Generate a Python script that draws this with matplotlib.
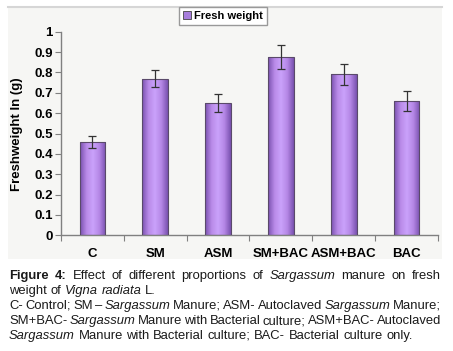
import matplotlib
matplotlib.use("Agg")
import matplotlib.pyplot as plt
import numpy as np
from matplotlib.colors import LinearSegmentedColormap
from matplotlib.patches import Rectangle, Patch
from matplotlib.lines import Line2D

plt.rcParams['font.family'] = ['Liberation Sans', 'DejaVu Sans']

# data
treatments = ['C', 'SM', 'ASM', 'SM+BAC', 'ASM+BAC', 'BAC']
fresh_weight = [0.46, 0.77, 0.65, 0.875, 0.79, 0.66]
errors = [0.03, 0.04, 0.045, 0.06, 0.05, 0.05]
yticks = [0, 0.1, 0.2, 0.3, 0.4, 0.5, 0.6, 0.7, 0.8, 0.9, 1]
ytick_labels = ['0', '0.1', '0.2', '0.3', '0.4', '0.5', '0.6', '0.7', '0.8', '0.9', '1']

W, H = 453, 351
fig = plt.figure(figsize=(W / 100, H / 100), dpi=100)
fig.patch.set_facecolor('white')

# grey chart panel behind the plot
fig.patches.append(Rectangle((8 / W, 1 - 259 / H), 434 / W, 252 / H,
                             transform=fig.transFigure, facecolor='#f6f6f4',
                             edgecolor='none', zorder=-5))
fig.lines.append(Line2D([8 / W, 442 / W], [1 - 7 / H, 1 - 7 / H],
                        transform=fig.transFigure, color='#d6d6d6', lw=1.5, zorder=-4))

ax = fig.add_axes([61 / W, 1 - 235.3 / H, 377 / W, 203.6 / H])
ax.set_facecolor('none')
ax.set_zorder(2)

x = np.arange(len(treatments))
bars = ax.bar(x, fresh_weight, width=0.41, color='none', edgecolor='#5a4a6a',
              linewidth=0.8, zorder=3)

# purple cylinder-like gradient inside each bar
cmap = LinearSegmentedColormap.from_list('purp', ['#7a52b0', '#b98ae8', '#caa2fb', '#b587e6', '#7a52b0'])
grad = np.linspace(0, 1, 64).reshape(1, -1)
for b in bars:
    im = ax.imshow(grad, cmap=cmap, aspect='auto', zorder=2,
                   extent=[b.get_x(), b.get_x() + b.get_width(), 0, b.get_height()])
    im.set_clip_path(b)

ax.errorbar(x, fresh_weight, yerr=errors, fmt='none', ecolor='#333333',
            elinewidth=0.9, capsize=3, capthick=0.9, zorder=4)

ax.set_xlim(-0.5, 5.5)
ax.set_ylim(0, 1)
for s in ['top', 'right']:
    ax.spines[s].set_visible(False)
for s in ['left', 'bottom']:
    ax.spines[s].set_color('#808080')
    ax.spines[s].set_linewidth(1)

ax.set_yticks(yticks)
ax.set_yticklabels(ytick_labels, fontsize=9.5, fontweight='bold')
ax.tick_params(axis='y', direction='out', length=4, color='#808080', pad=2)

ax.set_xticks(np.arange(-0.5, 6, 1))
ax.set_xticklabels([])
ax.tick_params(axis='x', which='major', direction='out', length=4, color='#808080')
ax.set_xticks(x, minor=True)
ax.set_xticklabels(treatments, minor=True, fontsize=9.5, fontweight='bold')
ax.tick_params(axis='x', which='minor', length=0, pad=9)

fig.text(17 / W, 1 - 134 / H, 'Freshweight In (g)', rotation=90, ha='center',
         va='center', fontsize=9.5, fontweight='bold')

fig.legend(handles=[Patch(facecolor='#a77ddc', edgecolor='#444444', lw=0.6)],
           labels=['Fresh weight'], loc='upper left',
           bbox_to_anchor=(179 / W, 1 - 7 / H), frameon=True, fancybox=False,
           edgecolor='#999999', framealpha=1, facecolor='white',
           prop={'weight': 'bold', 'size': 8}, handlelength=0.7,
           handleheight=0.7, handletextpad=0.3, borderpad=0.35, borderaxespad=0)

# caption with justified lines
caption = [
    ([('Figure 4:', 'bold'), ('Effect of different proportions of', 'normal'),
      ('Sargassum', 'italic'), ('manure on fresh', 'normal')], True, 279),
    ([('weight of', 'normal'), ('Vigna radiata', 'italic'), ('L.', 'normal')], False, 294),
    ([('C- Control; SM \u2013', 'normal'), ('Sargassum', 'italic'),
      ('Manure; ASM- Autoclaved', 'normal'), ('Sargassum', 'italic'), ('Manure;', 'normal')], True, 309),
    ([('SM+BAC-', 'normal'), ('Sargassum', 'italic'),
      ('Manure with Bacterial culture; ASM+BAC- Autoclaved', 'normal')], True, 324),
    ([('Sargassum', 'italic'), ('Manure with Bacterial culture; BAC- Bacterial culture only.', 'normal')], False, 339),
]
renderer = fig.canvas.get_renderer()
left, right = 9, 441
csize = 9.4
for frags, justify, base in caption:
    words = []
    for txt, style in frags:
        for w in txt.split(' '):
            words.append((w, style))
    items = []
    for w, style in words:
        kw = {'fontsize': csize, 'color': '#1a1a1a'}
        if style == 'bold':
            kw['fontweight'] = 'bold'
        elif style == 'italic':
            kw['fontstyle'] = 'italic'
        t = fig.text(0, 1 - base / H, w, va='baseline', ha='left', **kw)
        items.append((t, t.get_window_extent(renderer).width))
    sp = fig.text(0, 0, 'a a', fontsize=csize).get_window_extent(renderer).width - \
        2 * fig.text(0, 0, 'a', fontsize=csize).get_window_extent(renderer).width
    for t in fig.texts[-2:]:
        t.remove()
    total = sum(wd for _, wd in items)
    gap = (right - left - total) / (len(items) - 1) if justify else sp
    pos = left
    for t, wd in items:
        t.set_x(pos / W)
        pos += wd + gap

fig.savefig('out.png', dpi=100)
